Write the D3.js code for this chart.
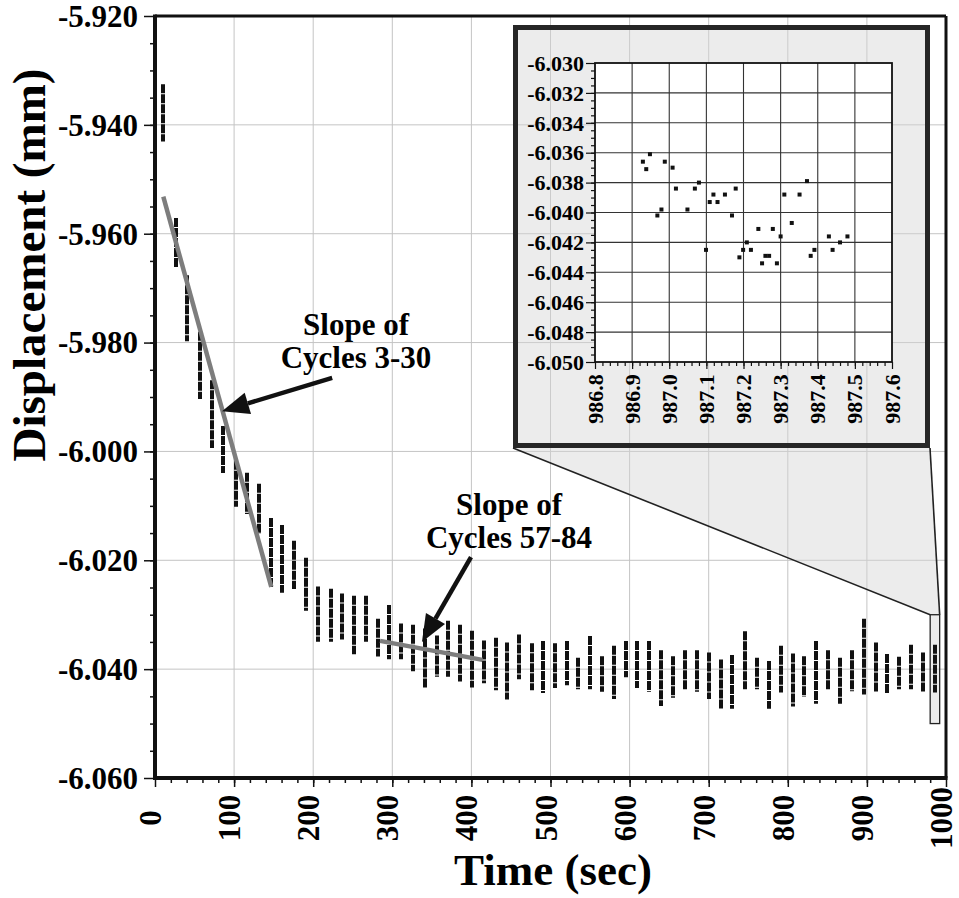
<!DOCTYPE html>
<html>
<head>
<meta charset="utf-8">
<script src="https://cdn.jsdelivr.net/npm/d3@7"></script>
<style>
  body { margin: 0; background: #fff; }
  text { font-family: "Liberation Serif", "Times New Roman", serif; font-weight: bold; }
</style>
</head>
<body>
<div id="chart"></div>
<script>
// each sample burst (one per recorded cycle): time, highest and lowest displacement
var cycleTimes = [10, 26.5, 41, 57, 72, 86, 102, 116, 131, 147, 161, 176, 191, 206.5, 222, 237, 252, 266.5,
  282, 296, 311.6, 326, 341, 356, 371, 386, 401, 416, 431, 445, 460, 476, 490, 506, 520.5, 535, 550, 564.5,
  580, 595, 609.6, 624.5, 640, 655, 670, 685.5, 700.6, 715.6, 730, 746, 760.6, 776, 791, 806, 821, 836,
  851, 866, 881.5, 896, 911, 926, 941, 956, 971, 986];
var cycleTop = [-5.9328, -5.9574, -5.9679, -5.9783, -5.9872, -5.9956, -6.0020, -6.0042, -6.0062, -6.0125,
  -6.0138, -6.0167, -6.0198, -6.0251, -6.0255, -6.0264, -6.0268, -6.0268, -6.0310, -6.0285, -6.0319,
  -6.0321, -6.0328, -6.0341, -6.0314, -6.0321, -6.0332, -6.0350, -6.0345, -6.0354, -6.0339, -6.0355,
  -6.0351, -6.0355, -6.0351, -6.0382, -6.0342, -6.0379, -6.0360, -6.0351, -6.0351, -6.0351, -6.0368,
  -6.0379, -6.0368, -6.0368, -6.0372, -6.0385, -6.0377, -6.0333, -6.0382, -6.0388, -6.0360, -6.0374,
  -6.0379, -6.0351, -6.0368, -6.0382, -6.0368, -6.0310, -6.0354, -6.0375, -6.0380, -6.0358, -6.0372, -6.0358];
var cycleBottom = [-5.9428, -5.9659, -5.9795, -5.9901, -5.9991, -6.0037, -6.0099, -6.0112, -6.0149, -6.0248,
  -6.0257, -6.0250, -6.0290, -6.0347, -6.0347, -6.0343, -6.0370, -6.0347, -6.0374, -6.0379, -6.0379,
  -6.0401, -6.0431, -6.0411, -6.0411, -6.0420, -6.0431, -6.0423, -6.0436, -6.0453, -6.0416, -6.0436,
  -6.0441, -6.0432, -6.0427, -6.0434, -6.0434, -6.0439, -6.0452, -6.0412, -6.0432, -6.0439, -6.0465,
  -6.0450, -6.0434, -6.0439, -6.0452, -6.0470, -6.0470, -6.0434, -6.0434, -6.0470, -6.0440, -6.0466,
  -6.0448, -6.0461, -6.0434, -6.0461, -6.0438, -6.0444, -6.0440, -6.0443, -6.0434, -6.0434, -6.0440, -6.0440];

// zoomed last burst
var insetTimes = [986.929, 986.938, 986.948, 986.968, 986.979, 986.988, 987.009, 987.018, 987.049, 987.069,
  987.080, 987.099, 987.109, 987.119, 987.130, 987.150, 987.169, 987.179, 987.189, 987.199, 987.209,
  987.220, 987.240, 987.250, 987.259, 987.269, 987.279, 987.290, 987.300, 987.310, 987.330, 987.351,
  987.371, 987.381, 987.391, 987.430, 987.440, 987.460, 987.480];
var insetValues = [-6.0366, -6.0371, -6.0361, -6.0402, -6.0398, -6.0366, -6.0370, -6.0384, -6.0398, -6.0384,
  -6.0380, -6.0425, -6.0393, -6.0388, -6.0393, -6.0388, -6.0402, -6.0384, -6.0430, -6.0425, -6.0420,
  -6.0425, -6.0411, -6.0434, -6.0429, -6.0429, -6.0411, -6.0434, -6.0416, -6.0388, -6.0407, -6.0388,
  -6.0379, -6.0429, -6.0425, -6.0416, -6.0425, -6.0420, -6.0416];

// fitted slopes [time, displacement] at both ends
var slopeFirst = [[10.5, -5.9532], [147, -6.0249]];
var slopeLater = [[284.5, -6.0348], [414, -6.0383]];

var xTicks = [0, 100, 200, 300, 400, 500, 600, 700, 800, 900, 1000];
var yTicks = [-5.92, -5.94, -5.96, -5.98, -6.00, -6.02, -6.04, -6.06];
var yTickLabels = ["-5.920", "-5.940", "-5.960", "-5.980", "-6.000", "-6.020", "-6.040", "-6.060"];
var insetXTicks = [986.8, 986.9, 987.0, 987.1, 987.2, 987.3, 987.4, 987.5, 987.6];
var insetXLabels = ["986.8", "986.9", "987.0", "987.1", "987.2", "987.3", "987.4", "987.5", "987.6"];
var insetYTicks = [-6.030, -6.032, -6.034, -6.036, -6.038, -6.040, -6.042, -6.044, -6.046, -6.048, -6.050];
var insetYLabels = ["-6.030", "-6.032", "-6.034", "-6.036", "-6.038", "-6.040", "-6.042", "-6.044", "-6.046", "-6.048", "-6.050"];
var zoomBox = {t0: 980, t1: 992, v0: -6.030, v1: -6.050};

var W = 959, H = 898;
var svg = d3.select("#chart").append("svg").attr("width", W).attr("height", H);
svg.append("rect").attr("width", W).attr("height", H).attr("fill", "#fff");

var x = d3.scaleLinear().domain([0, 1000]).range([155, 946]);
var y = d3.scaleLinear().domain([-6.06, -5.92]).range([778, 16]);

// main grid
svg.append("g").selectAll("line").data(xTicks.slice(1, -1)).enter().append("line")
  .attr("x1", function(d) { return x(d); }).attr("x2", function(d) { return x(d); })
  .attr("y1", y(-5.92)).attr("y2", y(-6.06))
  .attr("stroke", "#c4c4c4").attr("stroke-width", 1);
svg.append("g").selectAll("line").data(yTicks.slice(1, -1)).enter().append("line")
  .attr("x1", x(0)).attr("x2", x(1000))
  .attr("y1", function(d) { return y(d); }).attr("y2", function(d) { return y(d); })
  .attr("stroke", "#c4c4c4").attr("stroke-width", 1);

// inset frame geometry
var frame = {x0: 513, y0: 25, x1: 930, y1: 448};
var xi = d3.scaleLinear().domain([986.8, 987.6]).range([595, 892]);
var yi = d3.scaleLinear().domain([-6.050, -6.030]).range([362, 63]);

// connector from the inset frame down to the zoom box
var conn = [[frame.x0, frame.y1], [frame.x1, frame.y1],
  [x(zoomBox.t1), y(zoomBox.v0)], [x(zoomBox.t0), y(zoomBox.v0)]];
svg.append("path").attr("d", "M" + conn.join("L") + "Z")
  .attr("fill", "#d4d4d4").attr("fill-opacity", 0.45).attr("stroke", "none");
svg.append("line").attr("x1", conn[0][0]).attr("y1", conn[0][1]).attr("x2", conn[3][0]).attr("y2", conn[3][1])
  .attr("stroke", "#222").attr("stroke-width", 1.6);
svg.append("line").attr("x1", conn[1][0]).attr("y1", conn[1][1]).attr("x2", conn[2][0]).attr("y2", conn[2][1])
  .attr("stroke", "#222").attr("stroke-width", 1.6);
svg.append("rect")
  .attr("x", x(zoomBox.t0)).attr("y", y(zoomBox.v0))
  .attr("width", x(zoomBox.t1) - x(zoomBox.t0)).attr("height", y(zoomBox.v1) - y(zoomBox.v0))
  .attr("fill", "#d4d4d4").attr("fill-opacity", 0.45).attr("stroke", "#222").attr("stroke-width", 1.3);

svg.append("rect")
  .attr("x", frame.x0 + 2.5).attr("y", frame.y0 + 2.5)
  .attr("width", frame.x1 - frame.x0 - 5).attr("height", frame.y1 - frame.y0 - 5)
  .attr("fill", "#d4d4d4").attr("fill-opacity", 0.45)
  .attr("stroke", "#262626").attr("stroke-width", 5);

// inset plot
var inset = svg.append("g");
inset.append("rect").attr("x", xi(986.8)).attr("y", yi(-6.030))
  .attr("width", xi(987.6) - xi(986.8)).attr("height", yi(-6.050) - yi(-6.030)).attr("fill", "#fff");
inset.selectAll("vgrid").data(insetXTicks.slice(1, -1)).enter().append("line")
  .attr("x1", function(d) { return xi(d); }).attr("x2", function(d) { return xi(d); })
  .attr("y1", yi(-6.030)).attr("y2", yi(-6.050)).attr("stroke", "#333").attr("stroke-width", 1.1);
inset.selectAll("hgrid").data(insetYTicks.slice(1, -1)).enter().append("line")
  .attr("x1", xi(986.8)).attr("x2", xi(987.6))
  .attr("y1", function(d) { return yi(d); }).attr("y2", function(d) { return yi(d); })
  .attr("stroke", "#333").attr("stroke-width", 1.1);
inset.append("rect").attr("x", xi(986.8)).attr("y", yi(-6.030))
  .attr("width", xi(987.6) - xi(986.8)).attr("height", yi(-6.050) - yi(-6.030))
  .attr("fill", "none").attr("stroke", "#111").attr("stroke-width", 1.8);

var iyMajor = inset.append("g").attr("transform", "translate(" + xi(986.8) + ",0)")
  .call(d3.axisLeft(yi).tickValues(insetYTicks).tickSize(9).tickFormat(""));
var iyMinor = inset.append("g").attr("transform", "translate(" + xi(986.8) + ",0)")
  .call(d3.axisLeft(yi).tickValues(d3.range(-6.0495, -6.0301, 0.0005)).tickSize(4).tickFormat(""));
var ixMajor = inset.append("g").attr("transform", "translate(0," + yi(-6.050) + ")")
  .call(d3.axisBottom(xi).tickValues(insetXTicks).tickSize(7).tickFormat(""));
var ixMinor = inset.append("g").attr("transform", "translate(0," + yi(-6.050) + ")")
  .call(d3.axisBottom(xi).tickValues(d3.range(986.82, 987.59, 0.02)).tickSize(4).tickFormat(""));
[iyMajor, iyMinor, ixMajor, ixMinor].forEach(function(g) {
  g.select(".domain").remove();
  g.selectAll("line").attr("stroke", "#111").attr("stroke-width", 1.2);
});

inset.selectAll("ylab").data(insetYTicks).enter().append("text")
  .attr("x", 584).attr("y", function(d) { return yi(d); }).attr("dy", "0.35em")
  .attr("text-anchor", "end").style("font-size", "22px").text(function(d, i) { return insetYLabels[i]; });
inset.selectAll("xlab").data(insetXTicks).enter().append("text")
  .attr("transform", function(d) { return "translate(" + (xi(d) + 7.5) + ",399) rotate(-90)"; })
  .attr("text-anchor", "middle").style("font-size", "22px").text(function(d, i) { return insetXLabels[i]; });

inset.selectAll("pt").data(insetTimes).enter().append("rect")
  .attr("x", function(d) { return xi(d) - 2; })
  .attr("y", function(d, i) { return yi(insetValues[i]) - 2; })
  .attr("width", 4).attr("height", 4).attr("fill", "#111");

// data bursts
svg.append("g").selectAll("line").data(cycleTimes).enter().append("line")
  .attr("x1", function(d) { return Math.round(x(d)); }).attr("x2", function(d) { return Math.round(x(d)); })
  .attr("y1", function(d, i) { return y(cycleTop[i]) - 1.5; })
  .attr("y2", function(d, i) { return y(cycleBottom[i]) + 1.5; })
  .attr("stroke", "#111").attr("stroke-width", 4)
  .style("stroke-dasharray", "9,1");

// slope lines
var line = d3.line().x(function(d) { return x(d[0]); }).y(function(d) { return y(d[1]); });
svg.selectAll("slopes").data([slopeFirst, slopeLater]).enter().append("path")
  .attr("d", function(d) { return line(d); })
  .attr("stroke", "#7d7d7d").attr("stroke-width", 4.5).attr("fill", "none");

// main axes
var yAxis = svg.append("g").attr("transform", "translate(" + x(0) + ",0)")
  .call(d3.axisLeft(y).tickValues(yTicks).tickSize(11).tickFormat(""));
var yMinor = svg.append("g").attr("transform", "translate(" + x(0) + ",0)")
  .call(d3.axisLeft(y).tickValues(d3.range(-6.055, -5.9201, 0.005)).tickSize(5).tickFormat(""));
var xAxis = svg.append("g").attr("transform", "translate(0," + y(-6.06) + ")")
  .call(d3.axisBottom(x).tickValues(xTicks).tickSize(9).tickFormat(""));
var xMinor = svg.append("g").attr("transform", "translate(0," + y(-6.06) + ")")
  .call(d3.axisBottom(x).tickValues(d3.range(20, 1000, 20)).tickSize(5).tickFormat(""));
[yAxis, yMinor, xAxis, xMinor].forEach(function(g) {
  g.select(".domain").remove();
  g.selectAll("line").attr("stroke", "#111").attr("stroke-width", 1.5);
});

// plot border
svg.append("line").attr("x1", x(0)).attr("x2", x(1000)).attr("y1", y(-5.92)).attr("y2", y(-5.92))
  .attr("stroke", "#111").attr("stroke-width", 3);
svg.append("line").attr("x1", x(1000)).attr("x2", x(1000)).attr("y1", y(-5.92)).attr("y2", y(-6.06))
  .attr("stroke", "#111").attr("stroke-width", 3);
svg.append("line").attr("x1", x(0)).attr("x2", x(0)).attr("y1", y(-5.92) - 1.5).attr("y2", y(-6.06) + 2)
  .attr("stroke", "#111").attr("stroke-width", 4);
svg.append("line").attr("x1", x(0) - 2).attr("x2", x(1000) + 1.5).attr("y1", y(-6.06)).attr("y2", y(-6.06))
  .attr("stroke", "#111").attr("stroke-width", 4);

svg.selectAll("ylab").data(yTicks).enter().append("text")
  .attr("x", 138).attr("y", function(d) { return y(d); }).attr("dy", "0.35em")
  .attr("text-anchor", "end").style("font-size", "31px").text(function(d, i) { return yTickLabels[i]; });
svg.selectAll("xlab").data(xTicks).enter().append("text")
  .attr("transform", function(d) { return "translate(" + (x(d) + 6) + ",818) rotate(-90)"; })
  .attr("text-anchor", "middle").style("font-size", "31px").text(function(d) { return d; });

// annotations
var notes = [
  {lines: ["Slope of", "Cycles 3-30"], cx: 356, y0: 335, tail: [224, -5.9865], tip: [84.7, -5.9926]},
  {lines: ["Slope of", "Cycles 57-84"], cx: 509, y0: 515, tail: [399.5, -6.0194], tip: [337.5, -6.0350]}
];
notes.forEach(function(n) {
  n.lines.forEach(function(s, i) {
    svg.append("text").attr("x", n.cx).attr("y", n.y0 + i * 33)
      .attr("text-anchor", "middle").style("font-size", "31px").text(s);
  });
  var x0 = x(n.tail[0]), y0 = y(n.tail[1]), x1 = x(n.tip[0]), y1 = y(n.tip[1]);
  var dx = x1 - x0, dy = y1 - y0, len = Math.sqrt(dx * dx + dy * dy);
  var ux = dx / len, uy = dy / len, hl = 27, hw = 11;
  var bx = x1 - ux * hl, by = y1 - uy * hl;
  svg.append("line").attr("x1", x0).attr("y1", y0).attr("x2", bx).attr("y2", by)
    .attr("stroke", "#111").attr("stroke-width", 4.5);
  svg.append("path")
    .attr("d", "M" + x1 + "," + y1 + "L" + (bx - uy * hw) + "," + (by + ux * hw) +
      "L" + (bx + uy * hw) + "," + (by - ux * hw) + "Z")
    .attr("fill", "#111");
});

// axis titles
svg.append("text").attr("transform", "translate(45,265) rotate(-90)")
  .attr("text-anchor", "middle").style("font-size", "47px").text("Displacement (mm)");
svg.append("text").attr("x", 553).attr("y", 885)
  .attr("text-anchor", "middle").style("font-size", "45px").text("Time (sec)");
</script>
</body>
</html>
